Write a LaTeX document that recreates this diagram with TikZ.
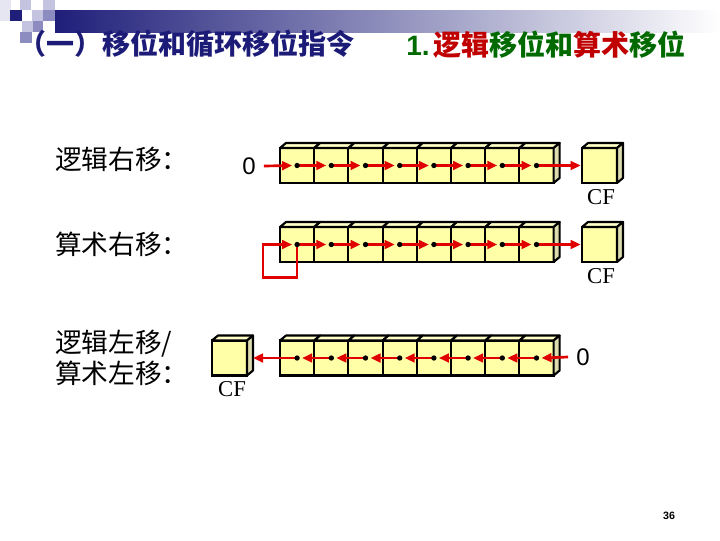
\documentclass[tikz,border=0pt]{standalone}
\usepackage{fontspec}
\setmainfont{Liberation Serif}
\newfontfamily\cjk{Noto Sans CJK SC}
\newfontfamily\arial{Liberation Sans}
\usetikzlibrary{arrows.meta,calc}
\definecolor{cellyellow}{HTML}{FFFFA8}
\definecolor{topyellow}{HTML}{FFFFC8}
\definecolor{sideyellow}{HTML}{DCDCB0}
\definecolor{arrred}{HTML}{E00000}
\definecolor{titleblue}{HTML}{1C1C78}
\definecolor{tgreen}{HTML}{006A00}
\definecolor{tred}{HTML}{C00000}
\definecolor{sqdark}{HTML}{1F1F7A}
\definecolor{sqmid}{HTML}{8C8CC0}
\definecolor{sqlight}{HTML}{C4C4E0}
\definecolor{sqfaint}{HTML}{E6E6F2}
\newcommand\topface[1]{%
  \filldraw[fill=topyellow,draw=black,line width=1.6pt,line join=round]
    (#1.north west) -- ++(6,-5) -- ($(#1.north east)+(6,-5)$) -- (#1.north east) -- cycle;}
\newcommand\sideface[1]{%
  \filldraw[fill=sideyellow,draw=black,line width=1.6pt,line join=round]
    (#1.north east) -- ++(6,-5) -- ($(#1.south east)+(6,-5)$) -- (#1.south east) -- cycle;}
\begin{document}
\begin{tikzpicture}[x=0.75pt,y=-0.75pt,
  cell/.style={draw=black,line width=1.6pt,fill=cellyellow,minimum width=25.65pt,
    minimum height=26.25pt,inner sep=0pt,outer sep=0pt},
  cfbox/.style={cell,minimum width=26.25pt},
  rarrow/.style={draw=arrred,line width=2pt,-{Triangle[length=7.5pt,width=6.5pt]}},
  zero/.style={font=\arial\fontsize{18pt}{20pt}\selectfont,inner sep=0pt},
  cflabel/.style={font=\fontsize{17pt}{19pt}\selectfont},
  lbl/.style={anchor=west,font=\cjk\fontsize{20pt}{23.5pt}\selectfont,align=left,inner sep=0pt},
  dotf/.style={fill=black}]
\useasboundingbox (0,0) rectangle (720,540);
% header decoration
\fill[sqfaint] (0,0) rectangle (11,21);
\fill[sqdark] (10,10) rectangle (22,21);
\fill[sqlight] (20,0) rectangle (31,10);
\fill[sqlight] (32,10) rectangle (43,21);
\fill[sqlight] (43,0) rectangle (55,10);
\fill[sqmid] (43,10) rectangle (55,21);
\fill[sqlight] (22,21) rectangle (33,32);
\fill[sqmid] (33,21) rectangle (43,32);
\fill[sqmid] (20,32) rectangle (32,43);
\shade[left color=sqdark,right color=white] (55,10) rectangle (720,32);
% titles
\node[anchor=east,inner sep=0pt,text=titleblue,font=\cjk\bfseries\fontsize{21pt}{24pt}\selectfont] (t1) at (355,44) {（一）移位和循环移位指令};
\node[anchor=east,inner sep=0pt,font=\cjk\bfseries\fontsize{21pt}{24pt}\selectfont] (t2) at (686,45)
  {\textcolor{tgreen}{\arial\bfseries 1.}\hspace{3pt}\textcolor{tred}{逻辑}\textcolor{tgreen}{移位和}\textcolor{tred}{算术}\textcolor{tgreen}{移位}};
% left labels
\node[lbl] (L1) at (55,159) {逻辑右移：};
\node[lbl] (L2) at (55,244) {算术右移：};
\node[lbl] (L3) at (55,358) {逻辑左移/\\算术左移：};
% row 1
\foreach \i in {1,...,8} \node[cell] (a\i) at ({280+34.2*(\i-0.5)},165.5) {};
\foreach \i in {1,...,8} \topface{a\i};
\sideface{a8}
\node[cfbox] (cf1) at (599.5,165.5) {};
\topface{cf1}\sideface{cf1}
\node[cflabel] (l1) at (601,197) {CF};
\node[zero] (z1) at (249,166) {0};
\draw[rarrow] ([xshift=6pt]z1.east) -- ([xshift=-3.75pt]a1.center);
\foreach \i in {1,...,7}{\pgfmathtruncatemacro\j{\i+1}
  \draw[rarrow] (a\i.center) -- ([xshift=-3.75pt]a\j.center);}
\draw[rarrow] (a8.center) -- ([xshift=-1pt]cf1.west);
\foreach \i in {1,...,8} \fill[dotf] (a\i.center) circle[radius=2pt];
% row 2
\foreach \i in {1,...,8} \node[cell] (b\i) at ({280+34.2*(\i-0.5)},244.5) {};
\foreach \i in {1,...,8} \topface{b\i};
\sideface{b8}
\node[cfbox] (cf2) at (599.5,244.5) {};
\topface{cf2}\sideface{cf2}
\node[cflabel] (l2) at (601,276) {CF};
\draw[rarrow] (b1.center) -- ++(0,33) -| ([xshift=-25.6pt]b1.center) -- ([xshift=-3.75pt]b1.center);
\foreach \i in {1,...,7}{\pgfmathtruncatemacro\j{\i+1}
  \draw[rarrow] (b\i.center) -- ([xshift=-3.75pt]b\j.center);}
\draw[rarrow] (b8.center) -- ([xshift=-1pt]cf2.west);
\foreach \i in {1,...,8} \fill[dotf] (b\i.center) circle[radius=2pt];
% row 3
\foreach \i in {1,...,8} \node[cell] (c\i) at ({280+34.2*(\i-0.5)},358) {};
\foreach \i in {1,...,8} \topface{c\i};
\sideface{c8}
\node[cfbox] (cf3) at (229.5,358) {};
\topface{cf3}\sideface{cf3}
\node[cflabel] (l3) at (232,389) {CF};
\node[zero] (z3) at (583,357) {0};
\draw[rarrow] ([xshift=-6pt]z3.west) -- ([xshift=3.75pt]c8.center);
\foreach \i in {2,...,8}{\pgfmathtruncatemacro\j{\i-1}
  \draw[rarrow] (c\i.center) -- ([xshift=3.75pt]c\j.center);}
\draw[rarrow] (c1.center) -- ([xshift=4.5pt]cf3.east);
\foreach \i in {1,...,8} \fill[dotf] (c\i.center) circle[radius=2pt];
% page number
\node[font=\arial\bfseries\fontsize{8pt}{9pt}\selectfont] (pg) at (669,516) {36};
\end{tikzpicture}
\end{document}
